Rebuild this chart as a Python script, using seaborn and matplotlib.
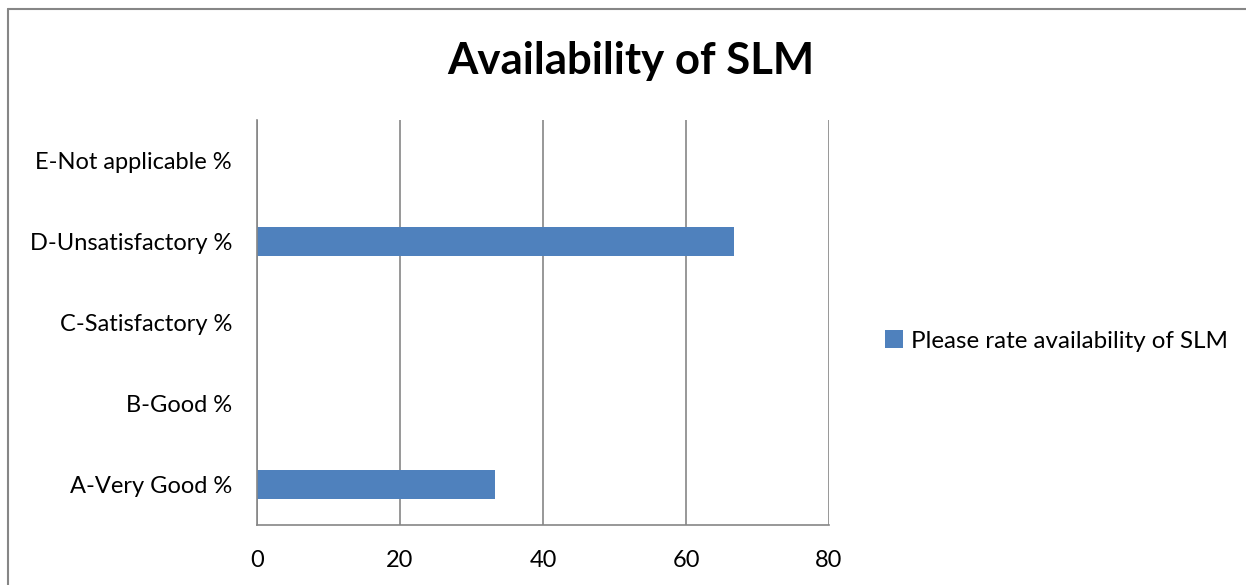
import pandas as pd
import seaborn as sns
import matplotlib.pyplot as plt
from matplotlib.lines import Line2D

# chart values (percent of respondents)
categories = ['E-Not applicable %', 'D-Unsatisfactory %', 'C-Satisfactory %',
              'B-Good %', 'A-Very Good %']
values = [0, 66.67, 0, 0, 33.33]
series_name = 'Please rate availability of SLM'
x_ticks = [0, 20, 40, 60, 80]

df = pd.DataFrame({'category': categories, 'value': values, 'series': series_name})

sns.set_style('white')
plt.rcParams['font.family'] = ['Lato', 'DejaVu Sans']
plt.rcParams['text.color'] = 'black'

fig = plt.figure(figsize=(12.46, 5.85), dpi=100)
ax = fig.add_axes([257 / 1246, 1 - 525 / 585, 572 / 1246, 405 / 585])

sns.barplot(data=df, x='value', y='category', hue='series', order=categories,
            palette=['#4F81BD'], width=0.37, orient='h', ax=ax, saturation=1,
            linewidth=0)

ax.set_xlim(0, 80)
ax.set_xticks(x_ticks)
ax.set_xlabel('')
ax.set_ylabel('')
ax.grid(axis='x', color='#868686', linewidth=1.2)
ax.set_axisbelow(True)
for side in ['top', 'right']:
    ax.spines[side].set_visible(False)
for side in ['left', 'bottom']:
    ax.spines[side].set_color('#868686')
    ax.spines[side].set_linewidth(1.2)
ax.tick_params(axis='both', length=0, labelsize=17, colors='black')
ax.tick_params(axis='y', pad=18)
ax.tick_params(axis='x', pad=18)

fig.suptitle('Availability of SLM', x=631 / 1246, y=1 - 61 / 585, va='center',
             fontsize=31.5, fontweight='bold', color='black')

sns.move_legend(ax, 'center left', bbox_to_anchor=(863 / 1246, 1 - 341 / 585),
                bbox_transform=fig.transFigure, frameon=False, title=None,
                fontsize=17.4, handlelength=0.75, handleheight=0.75, handletextpad=0.35)

# outer chart border (only top and left edges visible in the crop)
fig.add_artist(Line2D([8 / 1246, 1], [1 - 9 / 585, 1 - 9 / 585], color='#868686', linewidth=1.5))
fig.add_artist(Line2D([8 / 1246, 8 / 1246], [0, 1 - 9 / 585], color='#868686', linewidth=1.5))

fig.savefig('out.png', dpi=100)
